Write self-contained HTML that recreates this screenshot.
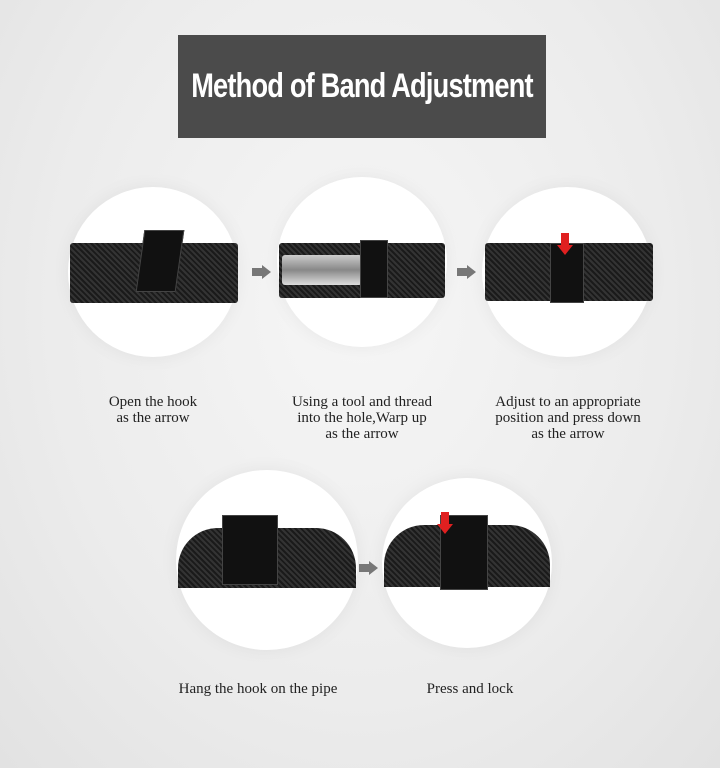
<!DOCTYPE html>
<html><head><meta charset="utf-8"><style>
*{margin:0;padding:0;box-sizing:border-box}
body{width:720px;height:768px;overflow:hidden;background:radial-gradient(ellipse at 50% 40%,#f6f6f6 0%,#ececec 60%,#e2e2e2 100%);position:relative;font-family:"Liberation Serif",serif;color:#222}
.title{position:absolute;left:178px;top:35px;width:368px;height:103px;background:#4b4b4b}
.title span{position:absolute;left:-66px;width:500px;top:33px;text-align:center;white-space:nowrap;color:#fff;font-family:"Liberation Sans",sans-serif;font-weight:bold;font-size:34px;line-height:36px;letter-spacing:-1px;transform:scaleX(0.8)}
.c{position:absolute;border-radius:50%;background:#fff;box-shadow:0 0 18px rgba(0,0,0,0.06)}
.band{position:absolute;background:repeating-linear-gradient(45deg,#1a1a1a 0 2px,#333 2px 4px);border-radius:3px}
.clasp{position:absolute;background:#111;border:1px solid #444}
.ar{position:absolute;width:0;height:0;border-top:7px solid transparent;border-bottom:7px solid transparent;border-left:9px solid #777}
.ar:before{content:"";position:absolute;left:-19px;top:-4px;width:10px;height:8px;background:#777}
.red{position:absolute;width:0;height:0;border-left:8px solid transparent;border-right:8px solid transparent;border-top:10px solid #e02020}
.red:before{content:"";position:absolute;left:-4px;top:-22px;width:8px;height:12px;background:#e02020}
.t{position:absolute;font-size:15px;line-height:16px;text-align:center;white-space:nowrap}
</style></head><body>
<div class="title"><span>Method of Band Adjustment</span></div>

<div class="c" style="left:68px;top:187px;width:170px;height:170px"></div>
<div class="c" style="left:277px;top:177px;width:170px;height:170px"></div>
<div class="c" style="left:482px;top:187px;width:170px;height:170px"></div>
<div class="c" style="left:176px;top:470px;width:182px;height:180px"></div>
<div class="c" style="left:382px;top:478px;width:170px;height:170px"></div>

<div class="band" style="left:70px;top:243px;width:168px;height:60px"></div>
<div class="clasp" style="left:140px;top:230px;width:40px;height:62px;transform:skewX(-8deg)"></div>
<div class="band" style="left:279px;top:243px;width:166px;height:55px"></div>
<div class="band" style="left:282px;top:255px;width:80px;height:30px;background:linear-gradient(#ccc,#888,#ddd)"></div>
<div class="clasp" style="left:360px;top:240px;width:28px;height:58px"></div>
<div class="band" style="left:485px;top:243px;width:168px;height:58px"></div>
<div class="clasp" style="left:550px;top:243px;width:34px;height:60px"></div>
<div class="band" style="left:178px;top:528px;width:178px;height:60px;border-radius:40px 40px 0 0"></div>
<div class="clasp" style="left:222px;top:515px;width:56px;height:70px"></div>
<div class="band" style="left:384px;top:525px;width:166px;height:62px;border-radius:40px 40px 0 0"></div>
<div class="clasp" style="left:440px;top:515px;width:48px;height:75px"></div>

<div class="ar" style="left:262px;top:265px"></div>
<div class="ar" style="left:467px;top:265px"></div>
<div class="ar" style="left:369px;top:561px"></div>

<div class="red" style="left:557px;top:245px"></div>
<div class="red" style="left:437px;top:524px"></div>

<div class="t" style="left:70px;top:394px;width:166px">Open the hook<br>as the arrow</div>
<div class="t" style="left:262px;top:394px;width:200px">Using a tool and thread<br>into the hole,Warp up<br>as the arrow</div>
<div class="t" style="left:468px;top:394px;width:200px">Adjust to an appropriate<br>position and press down<br>as the arrow</div>
<div class="t" style="left:150px;top:681px;width:216px">Hang the hook on the pipe</div>
<div class="t" style="left:400px;top:681px;width:140px">Press and lock</div>
</body></html>
